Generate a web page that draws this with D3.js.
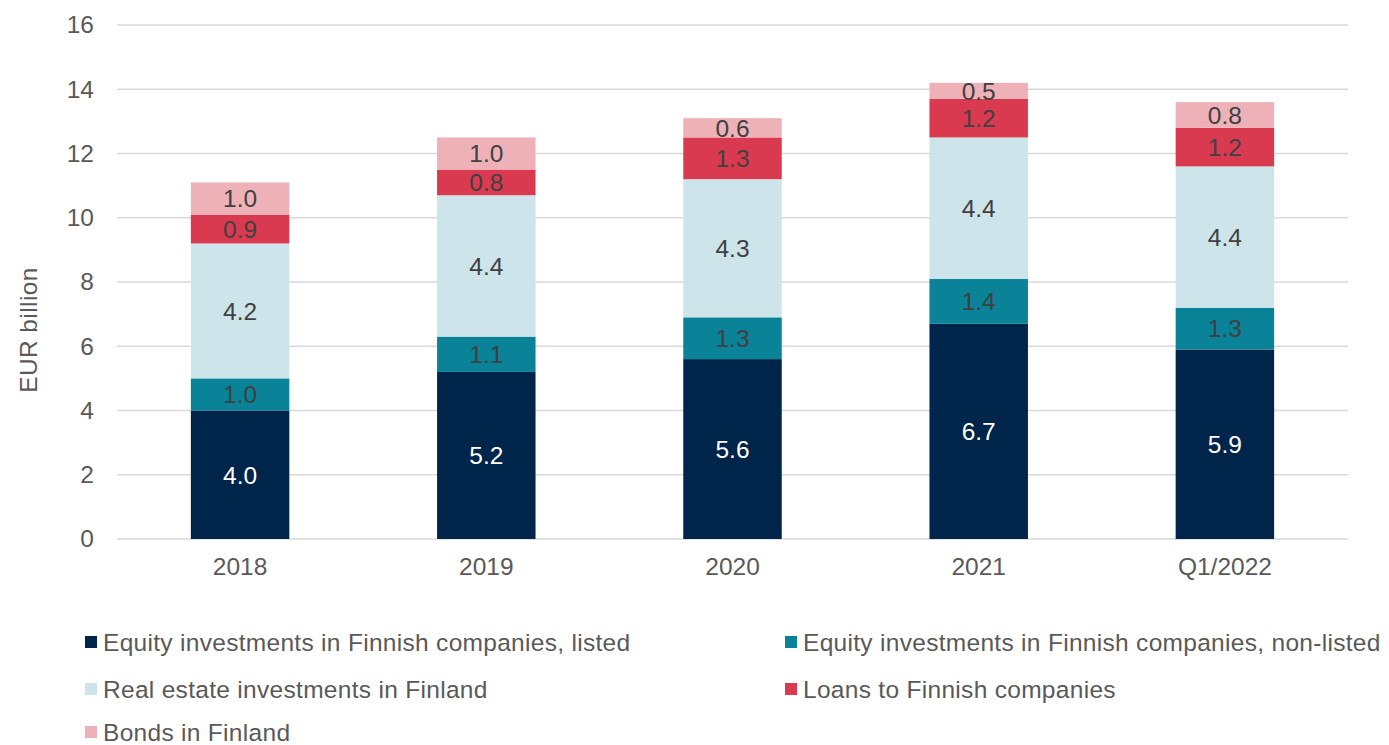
<!DOCTYPE html>
<html>
<head>
<meta charset="utf-8">
<script src="https://cdn.jsdelivr.net/npm/d3@7"></script>
<style>
  html, body { margin: 0; padding: 0; background: #fff; }
  svg { display: block; font-family: "Liberation Sans", Arial, sans-serif; }
</style>
</head>
<body>
<svg id="chart" width="1389" height="745"></svg>
<script>
// Finnish investments by asset class, EUR billion
const periods = ["2018", "2019", "2020", "2021", "Q1/2022"];
const seriesNames = [
  "Equity investments in Finnish companies, listed",
  "Equity investments in Finnish companies, non-listed",
  "Real estate investments in Finland",
  "Loans to Finnish companies",
  "Bonds in Finland"
];
const listed    = [4.0, 5.2, 5.6, 6.7, 5.9];
const nonListed = [1.0, 1.1, 1.3, 1.4, 1.3];
const realEstate= [4.2, 4.4, 4.3, 4.4, 4.4];
const loans     = [0.9, 0.8, 1.3, 1.2, 1.2];
const bonds     = [1.0, 1.0, 0.6, 0.5, 0.8];
const yTicks = [0, 2, 4, 6, 8, 10, 12, 14, 16];

const colors = ["#00254a", "#0a8298", "#cde5ea", "#d93a50", "#eeb1b8"];
const labelColors = ["#ffffff", "#404040", "#404040", "#404040", "#404040"];
const FONT = 24.5;

const seriesValues = [listed, nonListed, realEstate, loans, bonds];
const rows = periods.map((p, i) => {
  const r = { period: p };
  seriesNames.forEach((s, k) => { r[s] = seriesValues[k][i]; });
  return r;
});

const svg = d3.select("#chart");
const margin = { left: 117, right: 41, top: 25, bottom: 206 };
const W = 1389, H = 745;

const x = d3.scaleBand().domain(periods)
  .range([margin.left, W - margin.right]).paddingInner(0.6).paddingOuter(0.3);
const y = d3.scaleLinear().domain([0, 16]).range([H - margin.bottom, margin.top]);

// gridlines
svg.append("g").selectAll("line").data(yTicks).join("line")
  .attr("x1", margin.left).attr("x2", W - margin.right)
  .attr("y1", d => y(d)).attr("y2", d => y(d))
  .attr("stroke", "#d9d9d9").attr("stroke-width", 1.3);

// y axis labels
const yAxis = svg.append("g").attr("transform", `translate(${margin.left},0)`)
  .call(d3.axisLeft(y).tickValues(yTicks).tickSize(0).tickPadding(23));
yAxis.select(".domain").remove();
yAxis.selectAll("text").attr("font-size", FONT).attr("fill", "#595959")
  .attr("font-family", "Liberation Sans, Arial, sans-serif");

// x axis labels
const xAxis = svg.append("g").attr("transform", `translate(0,${y(0)})`)
  .call(d3.axisBottom(x).tickSize(0).tickPadding(19));
xAxis.select(".domain").remove();
xAxis.selectAll("text").attr("font-size", FONT).attr("fill", "#595959")
  .attr("font-family", "Liberation Sans, Arial, sans-serif");

// y axis title
svg.append("text")
  .attr("transform", `translate(37,330) rotate(-90)`)
  .attr("text-anchor", "middle").attr("font-size", FONT).attr("fill", "#595959")
  .attr("letter-spacing", 0.4)
  .text("EUR billion");

// stacked bars
const stacked = d3.stack().keys(seriesNames)(rows);
const layers = svg.append("g").selectAll("g").data(stacked).join("g")
  .attr("fill", (d, k) => colors[k]);

layers.selectAll("rect").data(d => d).join("rect")
  .attr("x", d => x(d.data.period))
  .attr("width", x.bandwidth())
  .attr("y", d => y(d[1]))
  .attr("height", d => y(d[0]) - y(d[1]));

layers.selectAll("text").data((d, k) => d.map(v => ({ v, k, key: d.key }))).join("text")
  .attr("x", d => x(d.v.data.period) + x.bandwidth() / 2)
  .attr("y", d => (y(d.v[0]) + y(d.v[1])) / 2)
  .attr("dy", "0.36em")
  .attr("text-anchor", "middle")
  .attr("font-size", FONT)
  .attr("fill", d => labelColors[d.k])
  .text(d => d3.format(".1f")(d.v.data[d.key]));

// legend: two columns, three rows
const legendPos = [
  { x: 85, y: 642 }, { x: 785, y: 642 },
  { x: 85, y: 689 }, { x: 785, y: 689 },
  { x: 85, y: 732 }
];
const legend = svg.append("g").selectAll("g").data(seriesNames).join("g")
  .attr("transform", (d, i) => `translate(${legendPos[i].x},${legendPos[i].y})`);
legend.append("rect").attr("x", 0).attr("y", -6).attr("width", 12).attr("height", 12)
  .attr("fill", (d, i) => colors[i]);
legend.append("text").attr("x", 18).attr("y", 0).attr("dy", "0.36em")
  .attr("font-size", FONT).attr("fill", "#595959").attr("letter-spacing", 0.3)
  .text(d => d);
</script>
</body>
</html>
